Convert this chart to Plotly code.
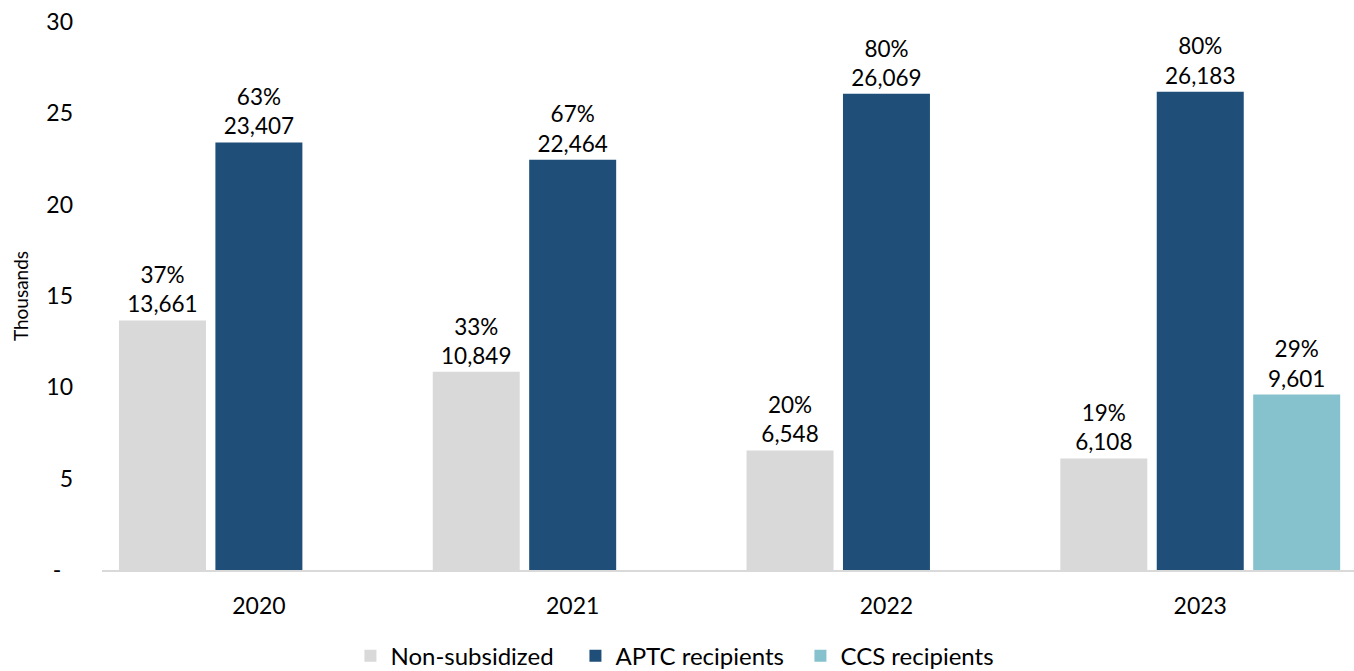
import plotly.graph_objects as go

years = ["2020", "2021", "2022", "2023"]
non_subsidized = [13661, 10849, 6548, 6108]
aptc = [23407, 22464, 26069, 26183]
ccs = [None, None, None, 9601]
non_sub_pct = [37, 33, 20, 19]
aptc_pct = [63, 67, 80, 80]
ccs_pct = [None, None, None, 29]

series = [
    ("Non-subsidized", non_subsidized, non_sub_pct, "#D9D9D9"),
    ("APTC recipients", aptc, aptc_pct, "#1F4E79"),
    ("CCS recipients", ccs, ccs_pct, "#86C2CE"),
]

FONT = "Lato"
fig = go.Figure()
for name, vals, pcts, color in series:
    y = [v / 1000 if v is not None else None for v in vals]
    text = [f"{p}%<br>{v:,}" if v is not None else "" for v, p in zip(vals, pcts)]
    fig.add_trace(go.Bar(
        x=years, y=y, name=name, text=text,
        textposition="outside", cliponaxis=False,
        textfont=dict(family=FONT, size=22.5, color="#000000"),
        marker=dict(color=color, line=dict(width=0)),
        hoverinfo="skip",
    ))

fig.update_layout(
    width=1354, height=671,
    barmode="group", bargap=0.078, bargroupgap=0.098,
    plot_bgcolor="white", paper_bgcolor="white",
    margin=dict(l=102, r=0, t=22, b=101, autoexpand=False),
    font=dict(family=FONT, size=23, color="#000000"),
    legend=dict(
        orientation="h",
        x=0.468, xanchor="center", y=-0.157, yanchor="middle",
        font=dict(family=FONT, size=24), traceorder="normal",
        entrywidth=180, entrywidthmode="pixels",
    ),
    uniformtext=dict(mode=False),
)
fig.update_xaxes(
    type="category", range=[-0.5, 3.49], automargin=False,
    showline=True, linecolor="#D9D9D9", linewidth=2,
    ticks="", tickfont=dict(size=23), showgrid=False,
    ticklabelstandoff=14,
)
fig.update_yaxes(
    range=[0, 30], tickvals=[0, 5, 10, 15, 20, 25, 30], automargin=False,
    ticktext=["-\u00a0\u00a0", "5", "10", "15", "20", "25", "30"],
    showgrid=False, zeroline=False, showline=False,
    ticks="", ticklabelstandoff=28, tickfont=dict(size=23),
    title=dict(text="Thousands", font=dict(size=19), standoff=12),
)

fig.write_html("out.html", post_script="document.body.style.margin='0';",
               config={"displayModeBar": False})
